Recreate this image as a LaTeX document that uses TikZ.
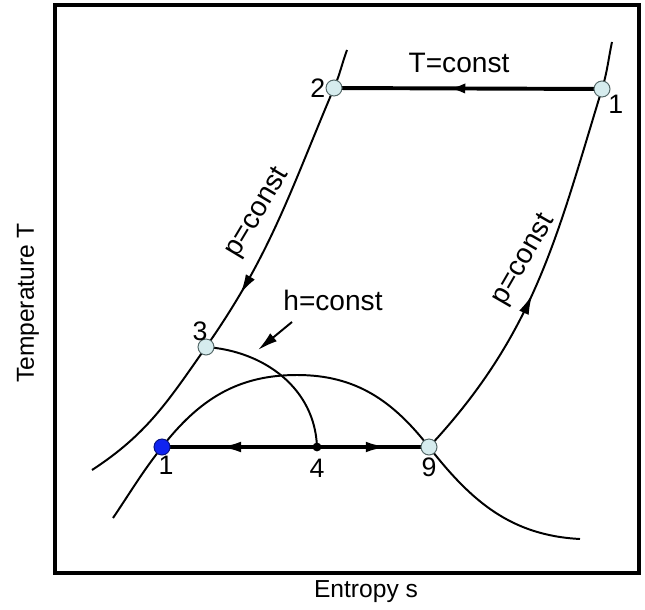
\documentclass[tikz,border=0pt]{standalone}
\usepackage{fontspec}
\setmainfont{Liberation Sans}
\usetikzlibrary{arrows.meta,positioning,backgrounds,decorations.markings}

\definecolor{statefill}{RGB}{214,236,238}
\definecolor{stateline}{RGB}{85,105,105}
\definecolor{liquidfill}{RGB}{15,35,240}

\begin{document}
\begin{tikzpicture}[
    x=0.25mm, y=0.25mm,
    state/.style={circle, draw=stateline, fill=statefill, line width=0.7pt, minimum size=4mm, inner sep=0pt},
    liquid/.style={state, draw=liquidfill!55!black, fill=liquidfill},
    mixture/.style={circle, fill=black, minimum size=2.2mm, inner sep=0pt},
    num/.style={font=\fontsize{19pt}{22pt}\selectfont, inner sep=0pt},
    eqtext/.style={font=\fontsize{20pt}{24pt}\selectfont, inner sep=0pt},
    axistext/.style={font=\fontsize{17.5pt}{21pt}\selectfont, inner sep=0pt},
    frame/.style={line width=2.8pt},
    curve/.style={line width=1.4pt},
    process/.style={line width=2.8pt},
    flowtip/.style 2 args={decoration={markings, mark=at position #1 with {\arrow{Latex[length=#2, width=2.6mm]}}}, postaction={decorate}},
    pointer/.style={line width=1.4pt, -{Latex[length=5mm, width=2.6mm]}}
]

\useasboundingbox (0,0) rectangle (645,609);
\draw[frame] (55,36) rectangle (639,604);

\node[state] (n2) at (334,521) {};
\node[state] (n1t) at (602,520) {};
\node[state] (n3) at (206,262) {};
\node[liquid] (n1b) at (162,162) {};
\node[mixture] (n4) at (317,162) {};
\node[state] (n9) at (429,162) {};

\coordinate (lowL) at (92,139);
\coordinate (topL) at (347,559);
\coordinate (topR) at (612,567);
\coordinate (domeL) at (113,91);
\coordinate (domeTop) at (297,234);
\coordinate (domeR) at (580,70);
\coordinate (hfrom) at (292,287);
\coordinate (hto) at (258,259);

\node[num, left=0pt of n2] (l2) {2};
\node[num, anchor=north west] (l1t) at (n1t.south east) {1};
\node[num, anchor=south] (l3) at (n3.north west) {3};
\node[num, below=0pt of n1b, xshift=1mm] (l1b) {1};
\node[num, below=1.7mm of n4] (l4) {4};
\node[num, below=0.5mm of n9] (l9) {9};

\node[eqtext] (tconst) at (459,546) {T=const};
\node[eqtext] (hconst) at (333,309) {h=const};
\node[eqtext, rotate=59] (pconstL) at (258,396) {p=const};
\node[eqtext, rotate=60] (pconstR) at (524,349) {p=const};
\node[axistext] (xlabel) at (366,17) {Entropy s};
\node[axistext, rotate=90] (ylabel) at (28,306) {Temperature T};

\begin{scope}[on background layer]
\draw[curve] (lowL) to[out=33,in=235] (n3.center);
\draw[curve, flowtip={0.78}{4.8mm}] (n2.center) to[out=247,in=55] (n3.center);
\draw[curve] (n2.center) to[out=67,in=250] (topL);
\draw[curve, flowtip={0.46}{5mm}] (n9.center) to[out=47,in=253] (n1t.center);
\draw[curve] (n1t.center) to[out=73,in=258] (topR);
\draw[curve] (domeL) to[out=56,in=232] (n1b.center) to[out=52,in=180] (domeTop)
    to[out=0,in=128] (n9.center) to[out=-52,in=177] (domeR);
\draw[curve] (n3.center) to[out=-4,in=92] (n4.center);
\draw[process, flowtip={0.57}{4mm}] (n1t.center) -- (n2.center);
\draw[process, flowtip={0.645}{6mm}] (n4.center) -- (n1b.center);
\draw[process, flowtip={0.65}{6mm}] (n4.center) -- (n9.center);
\end{scope}
\draw[pointer] (hfrom) -- (hto);

\end{tikzpicture}
\end{document}
